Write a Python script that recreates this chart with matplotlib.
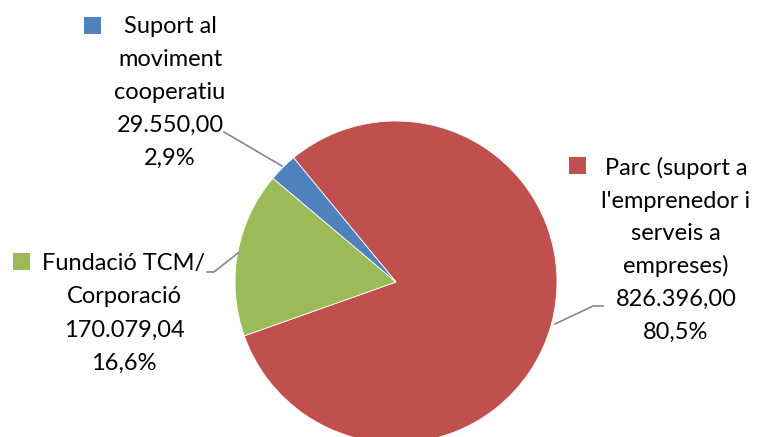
import matplotlib
matplotlib.use("Agg")
import matplotlib.pyplot as plt
from matplotlib.patches import Rectangle
from matplotlib.lines import Line2D

categories = ["Parc (suport a l'emprenedor i serveis a empreses)",
              "Fundació TCM/ Corporació",
              "Suport al moviment cooperatiu"]
category_lines = [["Parc (suport a", "l'emprenedor i", "serveis a", "empreses)"],
                  ["Fundació TCM/", "Corporació"],
                  ["Suport al", "moviment", "cooperatiu"]]
values = [826396.00, 170079.04, 29550.00]
colors = ["#C0504D", "#9BBB59", "#4F81BD"]

W, H = 760, 437
fig = plt.figure(figsize=(W / 100, H / 100), dpi=100)
fig.patch.set_facecolor("white")

# pie axes placed in pixel geometry
cx, cy, r = 396, 282, 161
ax = fig.add_axes([(cx - r) / W, (H - cy - r) / H, 2 * r / W, 2 * r / H])
ax.pie(values, colors=colors, startangle=129.5, counterclock=False, radius=1,
       wedgeprops=dict(linewidth=0.6, edgecolor="white"))
ax.set_xlim(-1, 1)
ax.set_ylim(-1, 1)
ax.set_aspect("auto")
ax.axis("off")

def fx(x):
    return x / W

def fy(y):
    return 1 - y / H

def fmt_num(v):
    s = f"{v:,.2f}"
    return s.replace(",", "X").replace(".", ",").replace("X", ".")

total = sum(values)
font = dict(family=["Lato", "DejaVu Sans"], size=17, color="black")

# label layout: (center x, first baseline y, line spacing, key square x,y)
layouts = [
    (676, 175, 32.7, (569, 157)),
    (124, 270, 33.3, (13, 253)),
    (170, 33, 33.0, (84, 17)),
]

for i, (lines, v, col) in enumerate(zip(category_lines, values, colors)):
    xc, yb, sp, (kx, ky) = layouts[i]
    pct = f"{100 * v / total:.1f}%".replace(".", ",")
    all_lines = lines + [fmt_num(v), pct]
    for j, t in enumerate(all_lines):
        fig.text(fx(xc), fy(yb + j * sp), t, ha="center", va="baseline", **font)
    fig.patches.append(Rectangle((fx(kx), fy(ky + 17)), 17 / W, 17 / H,
                                 transform=fig.transFigure, facecolor=col,
                                 edgecolor="none"))

# leader lines
leaders = [
    [(603, 306), (593, 306), (555, 324)],
    [(207, 272), (214, 272), (238, 253)],
    [(224, 132), (282, 166)],
]
for pts in leaders:
    xs = [fx(p[0]) for p in pts]
    ys = [fy(p[1]) for p in pts]
    fig.lines.append(Line2D(xs, ys, transform=fig.transFigure, color="#868686",
                            linewidth=1.2))

fig.savefig("out.png", dpi=100, facecolor="white")
